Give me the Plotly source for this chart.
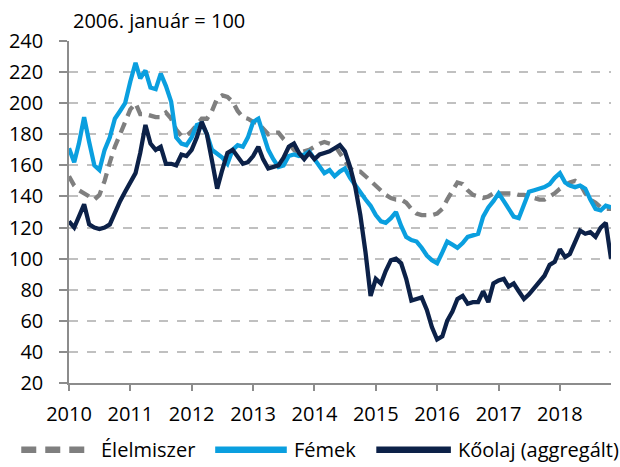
import pandas as pd
import plotly.graph_objects as go

# Monthly categories Jan 2010 .. Nov 2018
months = pd.date_range("2010-01-01", "2018-11-01", freq="MS").strftime("%Y-%m-%d").tolist()

elelmiszer = [153, 147, 144, 142, 140, 138, 141, 150, 162, 172, 180, 188,
              196, 200, 193, 193, 192, 191, 191, 194, 190, 183, 179, 179,
              182, 186, 190, 190, 195, 203, 205, 204, 201, 195, 191, 190,
              188, 187, 184, 180, 181, 181, 177, 174, 170, 168, 169, 170,
              172, 174, 175, 174, 173, 168, 163, 158, 156, 156, 153, 150,
              147, 144, 141, 139, 138, 138, 136, 132, 129, 128, 128, 128,
              129, 132, 138, 144, 149, 148, 144, 141, 140, 139, 140, 142,
              142, 142, 142, 142, 141, 141, 140, 139, 138, 138, 140, 142,
              145, 147, 149, 150, 148, 142, 138, 136, 133, 132, 132]

femek = [171, 162, 174, 191, 175, 160, 157, 170, 178, 190, 195, 200,
         214, 226, 216, 221, 210, 209, 219, 211, 201, 178, 174, 173,
         178, 186, 187, 180, 170, 167, 165, 161, 170, 173, 172, 178,
         188, 190, 180, 170, 164, 159, 160, 166, 167, 166, 167, 169,
         164, 159, 155, 157, 153, 156, 158, 152, 147, 142, 138, 134,
         128, 124, 123, 126, 130, 121, 114, 112, 111, 107, 102, 99,
         97, 104, 111, 109, 107, 110, 114, 115, 116, 127, 133, 137,
         142, 137, 132, 127, 126, 135, 143, 144, 145, 146, 148, 152,
         155, 149, 147, 146, 147, 145, 138, 132, 131, 134, 133]

koolaj = [124, 120, 127, 135, 122, 120, 119, 120, 122, 130, 137, 143,
          149, 155, 168, 186, 174, 170, 172, 161, 161, 160, 167, 166,
          170, 178, 188, 180, 163, 145, 157, 168, 170, 165, 161, 162,
          166, 172, 164, 158, 159, 160, 165, 172, 174, 168, 164, 168,
          164, 167, 168, 169, 171, 173, 169, 159, 146, 128, 104, 76,
          87, 84, 92, 99, 100, 97, 87, 73, 74, 75, 67, 56,
          48, 50, 60, 66, 74, 76, 71, 72, 72, 79, 72, 84,
          86, 87, 82, 84, 79, 74, 77, 81, 85, 89, 96, 98,
          106, 101, 103, 110, 118, 116, 117, 114, 120, 123, 100]

series_names = ["Élelmiszer", "Fémek", "Kőolaj (aggregált)"]
series_colors = ["#7f7f7f", "#0a9fdf", "#0c2148"]
series_dash = ["11px,7px", "solid", "solid"]

year_ticks = [f"{y}-01-01" for y in range(2010, 2019)]
year_labels = [str(y) for y in range(2010, 2019)]

FONT = "Open Sans"
FS = 20

fig = go.Figure()
for name, vals, col, dash in zip(series_names, [elelmiszer, femek, koolaj], series_colors, series_dash):
    fig.add_trace(go.Scatter(x=months, y=vals, mode="lines", name=name,
                             line=dict(color=col, width=4.3, dash=dash),
                             showlegend=False))

# custom legend (wide samples like the original)
leg_y = -0.195
sample_px = [(18, 82, 96), (213, 285, 290), (375, 450, 455)]
plot_l, plot_w = 66, 545
for (x0, x1, xt), name, col, dash in zip(sample_px, series_names, series_colors,
                                        ["15px,9px", "solid", "solid"]):
    fig.add_shape(type="line", xref="paper", yref="paper",
                  x0=(x0 - plot_l) / plot_w, x1=(x1 - plot_l) / plot_w,
                  y0=leg_y, y1=leg_y,
                  line=dict(color=col, width=6.5, dash=dash))
    fig.add_annotation(xref="paper", yref="paper", x=(xt - plot_l) / plot_w, y=leg_y,
                       text=name, showarrow=False, xanchor="left", yanchor="middle",
                       font=dict(family=FONT, size=FS, color="#000"))

fig.add_annotation(xref="paper", yref="paper", x=(68 - plot_l) / plot_w, y=1.0 + 21 / 342,
                   text="2006. január = 100", showarrow=False, xanchor="left", yanchor="middle",
                   font=dict(family=FONT, size=FS, color="#000"))

fig.update_layout(
    width=620, height=467,
    margin=dict(l=66, r=9, t=41, b=84),
    paper_bgcolor="white", plot_bgcolor="white",
    font=dict(family=FONT, size=FS, color="#000"),
    showlegend=False,
)
fig.update_xaxes(type="date", range=["2010-01-01", "2018-11-01"],
                 tickvals=year_ticks, ticktext=year_labels,
                 showgrid=False, showline=True, linecolor="#8c8c8c", linewidth=1.5,
                 ticks="outside", ticklen=6, tickwidth=1.5, tickcolor="#8c8c8c",
                 ticklabelstandoff=6, zeroline=False,
                 tickfont=dict(family=FONT, size=FS, color="#000"))
fig.update_yaxes(range=[20, 240], dtick=20, tick0=20,
                 showgrid=True, gridcolor="#c0c0c0", gridwidth=1.5, griddash="dash",
                 showline=True, linecolor="#8c8c8c", linewidth=1.5,
                 ticks="outside", ticklen=8, tickwidth=1.5, tickcolor="#8c8c8c",
                 ticklabelstandoff=12, zeroline=False,
                 tickfont=dict(family=FONT, size=FS, color="#000"))

fig.write_html("out.html", config={"displayModeBar": False},
               post_script="document.body.style.margin='0';document.body.style.overflow='hidden';")
